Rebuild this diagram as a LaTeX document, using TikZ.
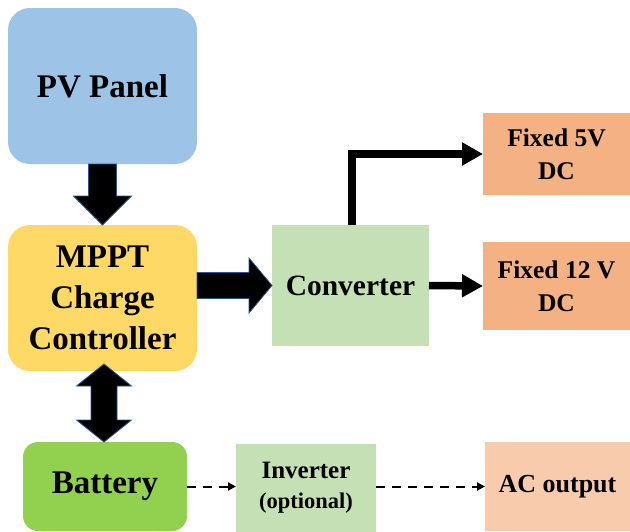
\documentclass[tikz,border=0pt]{standalone}
\usepackage{fontspec}
\setmainfont{Liberation Serif}
\usepackage{tikz}
\usetikzlibrary{calc,arrows.meta}

\definecolor{pvblue}{HTML}{9DC3E6}
\definecolor{mpptyellow}{HTML}{FFD966}
\definecolor{batgreen}{HTML}{92D050}
\definecolor{convgreen}{HTML}{C5E0B4}
\definecolor{dcorange}{HTML}{F4B183}
\definecolor{acpeach}{HTML}{F8CBAD}
\definecolor{arrowrim}{HTML}{2F528F}

\begin{document}
\begin{tikzpicture}[x=1pt,y=-1pt,
  box/.style={inner sep=0pt,outer sep=0pt,align=center},
  bigtext/.style={font=\bfseries\fontsize{33}{41}\selectfont},
  midtext/.style={font=\bfseries\fontsize{25.5}{33}\selectfont},
  roundbox/.style={box,bigtext,rounded corners=22pt},
  blockarrow/.style={fill=black,draw=arrowrim,line width=0.8pt,line join=miter},
  thinarrow/.style={line width=7.5pt,-{Triangle[length=21pt,width=22pt]}},
  dasharrow/.style={line width=2pt,dash pattern=on 9pt off 7pt,-{Triangle[length=8pt,width=8pt]}}]
\useasboundingbox (0,0) rectangle (630,531);
% boxes
\node[roundbox,fill=pvblue,minimum width=189pt,minimum height=156pt] (pv) at (102.5,86) {PV Panel};
\node[roundbox,fill=mpptyellow,minimum width=189pt,minimum height=146pt] (mppt) at (102.5,298) {MPPT\\Charge\\Controller};
\node[box,bigtext,rounded corners=15pt,fill=batgreen,minimum width=164pt,minimum height=89pt] (bat) at (105,486.5) {Battery};
\node[box,font=\bfseries\fontsize{29.5}{36}\selectfont,fill=convgreen,minimum width=157pt,minimum height=121pt] (conv) at (350.5,285.5) {Converter};
\node[box,midtext,fill=dcorange,minimum width=147pt,minimum height=82pt] (dc5) at (556.5,154) {Fixed 5V\\DC};
\node[box,midtext,fill=dcorange,minimum width=147pt,minimum height=88pt] (dc12) at (556.5,286) {Fixed 12 V\\DC};
\node[box,font=\bfseries\fontsize{25}{30}\selectfont,fill=convgreen,minimum width=140pt,minimum height=89pt] (inv) at (306,488) {Inverter\\{\fontsize{22.5}{30}\selectfont (optional)}};
\node[box,font=\bfseries\fontsize{26}{32}\selectfont,fill=acpeach,minimum width=145pt,minimum height=89pt] (ac) at (557.5,486.5) {AC output};
% block arrows
\draw[blockarrow] ($(pv.south)+(-14,0)$) -- ($(mppt.north)+(-14,-29)$) -- ($(mppt.north)+(-29,-29)$) -- (mppt.north) -- ($(mppt.north)+(29,-29)$) -- ($(mppt.north)+(14,-29)$) -- ($(pv.south)+(14,0)$) -- cycle;
\coordinate (mcstart) at (mppt.east |- conv.west);
\draw[blockarrow] ($(mcstart)+(0,-13)$) -- ($(conv.west)+(-23,-13)$) -- ($(conv.west)+(-23,-27.5)$) -- (conv.west) -- ($(conv.west)+(-23,27.5)$) -- ($(conv.west)+(-23,13)$) -- ($(mcstart)+(0,13)$) -- cycle;
\coordinate (dtop) at ($(mppt.south -| bat.north)+(-1,-7)$);
\coordinate (dbot) at ($(bat.north)+(-1,0)$);
\draw[blockarrow] (dtop) -- ($(dtop)+(27.5,22)$) -- ($(dtop)+(13,22)$) -- ($(dbot)+(13,-22)$) -- ($(dbot)+(27.5,-22)$) -- (dbot) -- ($(dbot)+(-27.5,-22)$) -- ($(dbot)+(-13,-22)$) -- ($(dtop)+(-13,22)$) -- ($(dtop)+(-27.5,22)$) -- cycle;
% outputs
\draw[thinarrow] ($(conv.north)+(1.5,0)$) |- (dc5.west);
\draw[thinarrow] (conv.east) -- (dc12.west);
\draw[dasharrow] (bat.east) -- (inv.west |- bat.east);
\draw[dasharrow] (inv.east |- ac.west) -- (ac.west);
\end{tikzpicture}
\end{document}
